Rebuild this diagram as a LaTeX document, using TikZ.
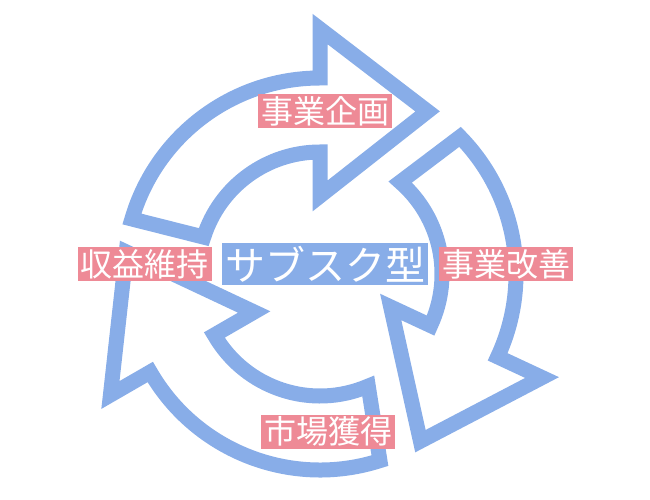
\documentclass[tikz,border=0pt]{standalone}
\usepackage{fontspec}
\newfontfamily\cjk{Noto Sans CJK JP}
\usetikzlibrary{positioning}
\definecolor{ringblue}{HTML}{88ADE8}
\definecolor{tagpink}{HTML}{EE8A96}
\tikzset{
  ring/.style={draw=ringblue, line width=15pt, fill=white, line join=miter},
  tag/.style={fill=tagpink, text=white, inner sep=0pt, minimum width=134pt,
    minimum height=34pt, font=\cjk\fontsize{32}{32}\selectfont},
  hub/.style={tag, fill=ringblue, minimum width=206pt, minimum height=42pt,
    font=\cjk\fontsize{40}{40}\selectfont}
}
\begin{document}
\begin{tikzpicture}[x=1pt,y=1pt]
\useasboundingbox (0,0) rectangle (650,500);
\def\ro{196pt}
\def\ri{122pt}
     \begin{scope}[shift={(320,226)}]
        \draw[ring] (163.7:\ro) arc[start angle=163.7, end angle=90, radius=\ro]
            -- (90:245pt) -- (56.5:195pt) -- (90:78pt) -- (90:\ri)
            arc[start angle=90, end angle=162.4, radius=\ri] -- cycle;
        \draw[ring] (44.4:\ro) arc[start angle=44.4, end angle=-25, radius=\ro]
            -- (-25:245pt) -- (-59:195pt) -- (-25:78pt) -- (-25:\ri)
            arc[start angle=-25, end angle=48.9, radius=\ri] -- cycle;
        \draw[ring] (-72.2:\ro) arc[start angle=-72.2, end angle=-150, radius=\ro]
            -- (-150:242pt) -- (173.5:195pt) -- (-150:76pt) -- (-150:\ri)
            arc[start angle=-150, end angle=-66.7, radius=\ri] -- cycle;
    \end{scope}
    \node[hub] (subsc) at (325,236) {サブスク型};
    \node[tag, right=11pt of subsc] (improve) {事業改善};
    \node[tag, left=10pt of subsc] (retain) {収益維持};
    \node[tag] (plan) at (325,388.5) {事業企画};
    \node[tag] (market) at (328.3,68.3) {市場獲得};
\end{tikzpicture}
\end{document}
